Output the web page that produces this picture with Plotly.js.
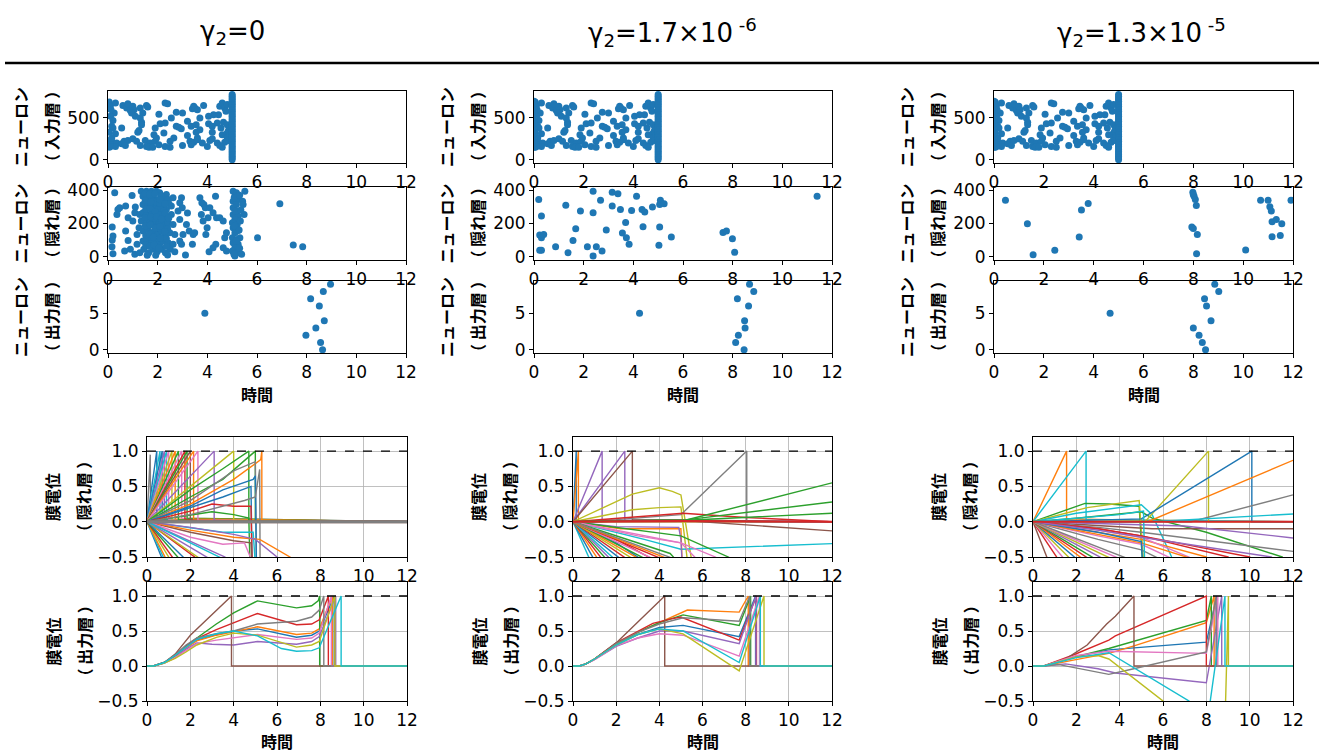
<!DOCTYPE html>
<html><head><meta charset="utf-8">
<script src="https://cdn.plot.ly/plotly-3.0.1.min.js"></script>
<style>html,body{margin:0;padding:0;background:#fff}#chart{width:1319px;height:753px}</style>
</head><body><div id="chart"></div>
<script>
// ================= DATA =================
const columnTitles = ['γ<sub>2</sub>=0', 'γ<sub>2</sub>=1.7×10<sup> -6</sup>', 'γ<sub>2</sub>=1.3×10<sup> -5</sup>'];
const quantityLabels = ['ニューロン','ニューロン','ニューロン','膜電位','膜電位'];
const layerLabels = ['（ 入力層 ）','（ 隠れ層 ）','（ 出力層 ）','（ 隠れ層 ）','（ 出力層 ）'];
const timeLabel = '時間';
const timeRange = [0, 12];
const xTicks = [0,2,4,6,8,10,12];
const yTicksInput = [0,500];
const yTicksHidden = [0,200,400];
const yTicksOutput = [0,5];
const yTicksMembrane = [-0.5,0,0.5,1];
const threshold = 1.0;
const outputNeurons = [0,1,2,3,4,5,6,7,8,9];

// input-layer spikes: [time, neuron]
const inputSpikes = [
 [0.05,690],[0.1,650],[0.3,680],[0.25,560],[0.6,650],[0.75,620],[0.8,670],[0.9,590],[1.0,640],[1.05,600],[1.3,620],[1.4,560],[1.55,650],[1.6,630],[2.05,545],[2.3,680],[2.4,670],[2.55,500],[2.75,570],[3.0,560],[3.4,610],[3.45,640],[3.5,620],[3.6,600],[3.85,650],[3.7,500],[4.05,520],[4.25,540],[4.45,540],[4.5,640],[4.6,680],[4.7,620],[4.8,660],[4.75,580],
 [0.1,520],[0.2,470],[0.15,400],[0.2,380],[0.55,380],[0.95,560],[1.1,520],[1.35,450],[1.35,420],[1.3,500],[1.9,380],[2.1,430],[2.3,440],[2.75,400],[2.85,390],[3.2,460],[3.35,400],[3.55,420],[3.7,360],[4.05,430],[4.2,400],[4.4,440],[4.55,380],[4.65,450],[4.8,420],
 [0.05,330],[0.3,310],[1.2,330],[1.25,350],[1.85,300],[1.95,260],[2.25,320],[2.95,370],[3.2,290],[3.55,330],[3.6,260],[4.2,330],[4.6,300],[4.8,320],[4.85,350],[4.9,380],[4.85,290],
 [0.05,230],[0.1,180],[0.2,200],[0.35,200],[0.55,190],[0.65,220],[0.8,230],[1.0,250],[1.15,220],[1.5,230],[1.7,200],[1.9,220],[2.05,180],[2.5,220],[2.65,260],[3.3,220],[3.45,210],[3.6,240],[3.8,200],[4.1,230],[4.2,250],[4.4,200],[4.7,210],[4.8,260],[4.9,280],[4.85,230],
 [0.05,150],[0.3,160],[0.7,170],[1.3,170],[1.55,160],[1.65,150],[1.8,150],[2.3,160],[2.5,150],[3.0,170],[3.35,180],[4.0,160],[4.5,170],[4.6,150],[0.1,160],[0.15,260],[0.12,600]
];
// extra spikes right at t=0 seen in the 2nd and 3rd columns
const inputStartSpikes = [[0,150],[0,190],[0,230],[0,270],[0,310],[0,350],[0,390],[0,430],[0,470],[0,510],[0,550],[0,590],[0,630],[0,670],[0,700]];
// burst at the end of the input window: every input neuron spikes
const inputBurstTime = 5.0;
const inputBurstNeurons = [0,20,40,60,80,100,120,140,160,180,200,220,240,260,280,300,320,340,360,380,400,420,440,460,480,500,520,540,560,580,600,620,640,660,680,700,720,740,760,780];

// hidden-layer spikes per column: [time, neuron]
const hidSpikes1 = [
 [0.27,384],[0.17,178],[0.2,124],[0.17,100],[0.16,60],[0.2,18],[0.4,284],[0.47,294],[0.36,254],[0.71,304],[0.81,234],[0.71,154],[0.81,98],[0.67,34],[0.9,44],[0.97,368],[1.1,298],[1.08,264],[1.0,214],[1.17,134],[1.17,74],[1.08,14],[1.25,174],[1.28,254],[1.28,24],
 [1.34,394],[1.55,394],[1.75,394],[1.95,394],[2.08,384],[2.35,374],[1.41,364],[1.61,354],[1.81,364],[2.02,344],[2.22,350],[2.42,344],[2.62,354],[2.96,354],[1.41,314],[1.61,304],[1.81,310],[1.95,294],[2.15,298],[2.35,284],[2.55,304],[1.41,264],[1.55,254],[1.75,264],[1.88,244],[2.02,264],[2.08,234],[2.22,254],[2.35,234],[2.55,254],[2.82,274],[1.34,214],[1.55,204],[1.68,218],[1.81,194],[1.95,214],[2.06,194],[2.18,210],[2.28,184],[2.42,204],[2.62,194],[2.89,224],[1.41,154],[1.61,164],[1.75,144],[1.88,158],[2.02,134],[2.15,154],[2.28,130],[2.49,144],[2.69,134],[1.41,94],[1.57,104],[1.75,84],[1.92,98],[2.08,74],[2.22,94],[2.42,84],[2.62,74],[2.89,94],[1.44,44],[1.64,24],[1.81,44],[1.98,30],[2.15,44],[2.31,24],[2.51,44],[2.69,30],[3.12,10],
 [1.9,330],[2.1,320],[2.0,280],[1.85,230],[2.25,275],[2.0,180],[1.7,120],[2.35,110],[1.95,60],[2.2,170],[1.65,330],[2.45,320],
 [1.5,380],[1.68,375],[1.88,378],[2.15,366],[1.5,338],[1.72,330],[2.1,342],[2.3,318],[1.52,285],[1.7,290],[1.9,270],[2.1,250],[2.3,262],[1.48,235],[1.72,240],[1.95,240],[2.15,228],[2.45,232],[1.5,185],[1.7,190],[1.9,172],[2.1,182],[2.4,168],[1.52,128],[1.68,135],[1.82,118],[2.1,112],[2.28,152],[1.52,70],[1.68,62],[1.85,72],[2.05,52],[2.35,62],[1.58,8],[1.92,8],[2.4,10],
 [2.89,324],[2.99,294],[3.16,194],[3.2,262],[3.02,134],[2.96,74],[3.27,154],[3.43,134],[3.49,144],[3.4,74],[3.7,354],[3.78,324],[3.86,314],[3.92,294],[3.76,254],[4.03,234],[3.83,214],[3.99,174],[3.94,134],[4.33,364],[4.1,294],[4.23,264],[4.37,234],[4.5,234],[4.64,214],[4.34,74],[4.23,54],[4.07,30],[4.7,114],[4.77,144],[4.64,54],[4.77,34],
 [5.04,394],[5.17,384],[5.11,364],[5.24,344],[5.04,334],[5.17,314],[5.04,294],[5.2,274],[5.04,254],[5.24,244],[5.11,224],[5.01,204],[5.2,194],[5.04,174],[5.24,158],[5.11,144],[5.01,114],[5.2,104],[5.04,84],[5.24,74],[5.11,54],[5.01,34],[5.2,24],[5.11,4],[5.38,14],[5.31,114],[5.33,214],[5.42,334],[5.51,394],[5.48,254],[5.44,314],
 [5.08,355],[5.15,275],[5.1,185],[5.16,95],[5.07,15],[5.3,50],[5.28,160],[5.35,280],[5.3,370],
 [6.02,114],[6.92,318],[7.46,70],[7.84,60]
];
const hidSpikes2 = [
 [0.19,344],[0.3,244],[0.23,130],[0.3,114],[0.39,134],[0.23,38],[0.3,38],[0.87,60],[1.28,310],[1.37,24],[1.57,98],[1.68,168],[1.87,274],[2.15,60],[2.38,394],[2.38,264],[2.38,4],[2.51,60],[2.68,340],[2.74,34],[2.91,160],[3.15,388],[3.38,378],[3.15,304],[3.48,284],[3.56,142],[3.69,206],[3.72,114],[3.83,74],[3.93,278],[4.13,364],[4.35,284],[4.46,268],[4.39,180],[4.77,298],[5.03,68],[5.06,178],[5.09,340],[5.06,314],[5.24,318],[5.53,118],[7.61,146],[7.75,154],[7.99,108],[8.08,26],[11.4,364]
];
const hidSpikes3 = [
 [0.46,340],[1.34,198],[1.57,12],[2.44,38],[3.42,118],[3.51,280],[3.78,320],[7.98,388],[8.03,364],[8.0,374],[8.08,344],[8.12,308],[7.94,178],[8.0,170],[8.16,134],[8.13,18],[10.1,40],[10.7,340],[11.0,340],[11.07,300],[11.13,274],[11.16,210],[11.33,224],[11.16,120],[11.49,128],[11.55,198],[11.92,340]
];

// output-layer spike time of neuron 0..9 per column
const outSpikes1 = [8.64,8.56,7.97,8.37,8.71,3.9,8.51,8.16,8.67,8.96];
const outSpikes2 = [8.46,8.12,8.23,8.5,8.48,4.25,8.64,8.19,8.85,8.68];
const outSpikes3 = [8.49,8.36,8.23,8.0,8.71,4.66,8.53,8.45,9.02,8.86];

// hidden-layer membrane potential traces (subset), each a list of [time, potential]
const hidMem1 = [
 [[0,0],[0.15,0.95],[0.17,0],[12,0]],
 [[0,0],[0.45,1],[0.45,0.02],[12,0]],
 [[0,0],[0.6,1],[0.6,0.02],[12,0]],
 [[0,0],[0.7,1],[0.7,0.03],[12,0]],
 [[0,0],[0.8,1],[0.8,0.02],[12,0]],
 [[0,0],[0.9,1],[0.9,0.02],[12,0]],
 [[0,0],[1.0,1],[1.0,0.03],[12,0]],
 [[0,0],[1.15,1],[1.15,0.02],[12,0]],
 [[0,0],[1.3,1],[1.3,0.04],[12,0]],
 [[0,0],[1.45,1],[1.45,0.03],[12,0]],
 [[0,0],[1.6,1],[1.6,0.05],[12,0]],
 [[0,0],[1.75,1],[1.75,0.04],[12,0]],
 [[0,0],[1.85,1],[1.85,0.05],[12,0]],
 [[0,0],[2.0,1],[2.0,0.03],[12,0]],
 [[0,0],[2.15,1],[2.15,0.04],[12,0]],
 [[0,0],[2.35,1],[2.35,0.02],[12,0]],
 [[0,0],[3.1,1],[3.1,0.02],[12,0]],
 [[0,0],[2,0.5],[4.0,1],[4.0,0.02],[12,0]],
 [[0,0],[2,0.45],[3.5,0.75],[4.7,1],[4.7,0],[12,0]],
 [[0,0],[2,0.35],[3.5,0.6],[5.0,1],[5.0,0],[12,0]],
 [[0,0],[2,0.25],[4,0.6],[5.25,0.88],[5.3,1],[5.3,0],[12,0]],
 [[0,0],[2,0.3],[4,0.72],[5.0,0.85],[5.05,-0.6]],
 [[0,0],[2,0.22],[3.5,0.45],[4.9,0.6],[5.0,0.65],[5.05,-0.6]],
 [[0,0],[2,0.2],[3.5,0.35],[4.8,0.5],[4.85,-0.6]],
 [[0,0],[2,0.15],[3,0.25],[4,0.22],[4.8,0.22],[4.85,-0.6]],
 [[0,0],[2,0.1],[3,0.14],[4,0.1],[4.7,0.05],[4.75,-0.6]],
 [[0,0],[2,0.1],[4.5,0.3],[5.0,0.35],[5.2,0.74],[5.22,-0.6]],
 [[0,0],[2,-0.08],[3.5,-0.15],[4.5,-0.15],[4.9,-0.15],[5.0,-0.6]],
 [[0,0],[2,-0.15],[4,-0.27],[4.8,-0.3],[4.85,-0.6]],
 [[0,0],[2,-0.12],[4,-0.22],[5.2,-0.25],[6.6,-0.5],[7,-0.6]],
 [[0,0],[2,-0.08],[4,-0.18],[5,-0.25],[6,-0.5],[6.2,-0.6]],
 [[0,0],[2,-0.22],[3.5,-0.32],[4.5,-0.3],[4.9,-0.6]],
 [[0,0],[2,-0.28],[3.6,-0.5],[3.8,-0.6]],
 [[0,0],[1.5,-0.35],[2.2,-0.5],[2.4,-0.6]],
 [[0,0],[0.8,-0.6]],
 [[0,0],[0.9,-0.6]],
 [[0,0],[1.0,-0.6]],
 [[0,0],[1.2,-0.6]],
 [[0,0],[1.4,-0.6]],
 [[0,0],[1.7,-0.6]],
 [[0,0],[2.0,-0.6]],
 [[0,0],[2.8,-0.6]],
 [[0,0],[3.3,-0.6]],
 [[0,0],[4.0,-0.6]],
 [[0,0],[12,0]],
 [[0,0],[5,0],[12,0]]
];
const hidMem2 = [
 [[0,0],[0.15,1],[0.15,0],[12,0]],
 [[0,0],[0.25,1],[0.25,0],[12,0]],
 [[0,0],[1.35,1],[1.35,0.02],[12,0]],
 [[0,0],[2.4,1],[2.4,0.02],[12,0]],
 [[0,0],[2.75,1],[2.75,0.03],[12,0]],
 [[0,0],[2.75,0.39],[4.0,0.48],[4.6,0.43],[5.0,0.38],[5.5,-0.55]],
 [[0,0],[2.75,0.17],[4.0,0.2],[5.0,0.21],[5.3,-0.55]],
 [[0,0],[2,0.03],[5.0,0.1],[8.05,1.0],[8.05,0],[12,0]],
 [[0,0],[2,0.05],[5.1,0.12],[8,0.06],[12,0.0]],
 [[0,0],[5.2,0.02],[12,0.55]],
 [[0,0],[5.3,0.03],[12,0.28]],
 [[0,0],[5.3,0.02],[12,0.12]],
 [[0,0],[5,0.02],[12,-0.13]],
 [[0,0],[3.3,-0.25],[5.0,-0.39],[12,-0.31]],
 [[0,0],[2.2,-0.1],[5.0,-0.1],[5.05,-0.55]],
 [[0,0],[2,-0.07],[4.9,-0.08],[5.0,-0.25],[5.05,-0.55]],
 [[0,0],[3,-0.2],[5.0,-0.3],[6.6,-0.5],[6.8,-0.55]],
 [[0,0],[3,-0.12],[5.0,-0.2],[7.2,-0.5],[7.4,-0.55]],
 [[0,0],[2.5,-0.15],[5,-0.3],[5.8,-0.55]],
 [[0,0],[2,-0.25],[3.5,-0.5],[3.7,-0.55]],
 [[0,0],[2,-0.3],[3,-0.5],[3.2,-0.55]],
 [[0,0],[3,-0.3],[4.5,-0.45],[4.8,-0.55]],
 [[0,0],[0.8,-0.55]],[[0,0],[1.0,-0.55]],[[0,0],[1.2,-0.55]],[[0,0],[1.4,-0.55]],
 [[0,0],[1.6,-0.55]],[[0,0],[1.8,-0.55]],[[0,0],[2.0,-0.55]],[[0,0],[2.3,-0.55]],
 [[0,0],[2.6,-0.55]],[[0,0],[2.9,-0.55]],[[0,0],[3.2,-0.55]],[[0,0],[3.5,-0.55]],
 [[0,0],[3.9,-0.55]],[[0,0],[4.3,-0.55]],[[0,0],[4.6,-0.55]],[[0,0],[4.9,-0.55]],
 [[0,0],[5,0.01],[12,0]]
];
const hidMem3 = [
 [[0,0],[1.55,1],[1.55,0.04],[5,0.02],[12,0]],
 [[0,0],[2.45,1],[2.45,0.03],[5,0.02],[12,0]],
 [[0,0],[2.4,0.26],[3.5,0.25],[4.9,0.22],[5.05,-0.55]],
 [[0,0],[2.5,0.2],[4.9,0.3],[5.1,-0.55]],
 [[0,0],[2,0.12],[5.0,0.24],[5.5,0.1],[6.4,-0.5],[6.5,-0.55]],
 [[0,0],[2,0.05],[5,0.14],[5.5,0.05],[8,-0.15],[11.5,-0.5],[11.7,-0.55]],
 [[0,0],[5.2,0.01],[8.1,1.0],[8.1,0],[12,0]],
 [[0,0],[5.0,0.04],[10.1,1.0],[10.1,0],[12,0]],
 [[0,0],[5.3,0.0],[12,0.87]],
 [[0,0],[7.3,0.0],[12,0.38]],
 [[0,0],[5.5,0.0],[12,0.11]],
 [[0,0],[3,-0.05],[5.5,-0.1],[12,-0.1]],
 [[0,0],[3,-0.03],[7,-0.06],[12,-0.23]],
 [[0,0],[3,-0.08],[5,-0.15],[12,-0.42]],
 [[0,0],[3,-0.1],[5,-0.2],[9,-0.5],[9.2,-0.55]],
 [[0,0],[3,-0.15],[5,-0.25],[8,-0.5],[8.2,-0.55]],
 [[0,0],[3,-0.12],[5,-0.22],[7.2,-0.5],[7.4,-0.55]],
 [[0,0],[3,-0.25],[5,-0.4],[6,-0.55]],
 [[0,0],[3,-0.2],[5,-0.32],[6.6,-0.55]],
 [[0,0],[3,-0.18],[5,-0.3],[7.6,-0.55]],
 [[0,0],[3,-0.15],[5.0,-0.28],[5.05,-0.55]],
 [[0,0],[4,0.1],[5.1,0.15],[5.15,-0.55]],
 [[0,0],[3,-0.1],[5,-0.2],[10,-0.5],[10.2,-0.55]],
 [[0,0],[3,-0.12],[5,-0.22],[11,-0.5],[11.2,-0.55]],
 [[0,0],[0.7,-0.55]],[[0,0],[1.2,-0.55]],[[0,0],[1.5,-0.55]],[[0,0],[1.8,-0.55]],
 [[0,0],[2.1,-0.55]],[[0,0],[2.4,-0.55]],[[0,0],[2.7,-0.55]],[[0,0],[3.0,-0.55]],
 [[0,0],[3.4,-0.55]],[[0,0],[3.8,-0.55]],[[0,0],[4.2,-0.55]],[[0,0],[4.6,-0.55]],
 [[0,0],[12,0]]
];

// output-layer membrane potential of neuron 0..9 per column
const outMem1 = [
 [[0,0],[0.3,0],[0.8,0.05],[1.3,0.15],[1.8,0.27],[2.3,0.37],[3.2,0.45],[4.0,0.5],[5.1,0.53],[6.9,0.41],[7.6,0.44],[7.95,0.5],[8.64,1],[8.64,0],[12,0]],
 [[0,0],[0.3,0],[0.8,0.05],[1.3,0.14],[1.8,0.26],[2.3,0.36],[3.2,0.44],[4.0,0.49],[5.1,0.56],[6.9,0.45],[7.6,0.47],[7.95,0.53],[8.56,1],[8.56,0],[12,0]],
 [[0,0],[0.3,0],[0.8,0.05],[1.3,0.15],[1.8,0.28],[2.3,0.4],[3.2,0.6],[4.0,0.76],[5.1,0.93],[6.9,0.83],[7.6,0.86],[7.9,0.93],[7.97,1],[7.97,0],[12,0]],
 [[0,0],[0.3,0],[0.8,0.05],[1.3,0.15],[1.8,0.28],[2.3,0.39],[3.2,0.52],[4.0,0.62],[5.1,0.75],[6.9,0.59],[7.6,0.6],[7.95,0.66],[8.37,1],[8.37,0],[12,0]],
 [[0,0],[0.3,0],[0.8,0.04],[1.3,0.12],[1.8,0.24],[2.3,0.33],[3.0,0.31],[3.5,0.3],[4.0,0.3],[5.1,0.35],[6.9,0.31],[7.6,0.35],[7.95,0.42],[8.71,1],[8.71,0],[12,0]],
 [[0,0],[0.3,0],[0.8,0.05],[1.3,0.17],[2.0,0.44],[3.9,1.0],[3.9,0],[12,0]],
 [[0,0],[0.3,0],[0.8,0.04],[1.3,0.12],[1.8,0.22],[2.3,0.32],[3.2,0.37],[4.0,0.4],[5.1,0.45],[6.9,0.38],[7.6,0.4],[7.95,0.47],[8.51,1],[8.51,0],[12,0]],
 [[0,0],[0.3,0],[0.8,0.05],[1.3,0.16],[1.8,0.3],[2.3,0.4],[3.2,0.46],[4.0,0.5],[5.1,0.6],[6.9,0.64],[7.6,0.7],[7.95,0.8],[8.16,1],[8.16,0],[12,0]],
 [[0,0],[0.3,0],[0.8,0.04],[1.3,0.11],[1.8,0.2],[2.3,0.3],[3.2,0.41],[4.0,0.47],[5.1,0.44],[6.9,0.27],[7.6,0.3],[7.95,0.35],[8.67,1],[8.67,0],[12,0]],
 [[0,0],[0.3,0],[0.8,0.05],[1.3,0.15],[1.8,0.27],[2.3,0.38],[3.2,0.46],[4.0,0.5],[5.1,0.43],[6.2,0.25],[6.9,0.21],[7.6,0.22],[7.95,0.26],[8.96,1],[8.96,0],[12,0]]
];
const outMem2 = [
 [[0,0],[0.3,0],[0.6,0.03],[1,0.1],[2,0.31],[3,0.45],[4,0.55],[5.1,0.58],[7.7,0.42],[8.46,1],[8.46,0],[12,0]],
 [[0,0],[0.3,0],[0.6,0.03],[1,0.1],[2,0.32],[3,0.48],[4,0.62],[5.3,0.8],[7.7,0.77],[8.12,1],[8.12,0],[12,0]],
 [[0,0],[0.3,0],[0.6,0.03],[1,0.1],[2,0.32],[3,0.48],[4,0.62],[5.1,0.73],[7.7,0.58],[8.23,1],[8.23,0],[12,0]],
 [[0,0],[0.3,0],[0.6,0.03],[1,0.1],[2,0.33],[3,0.5],[3.7,0.61],[4.5,0.67],[5.0,0.7],[7.7,0.37],[8.5,1],[8.5,0],[12,0]],
 [[0,0],[0.3,0],[0.6,0.03],[1,0.09],[2,0.28],[3,0.4],[4,0.5],[5.1,0.5],[7.7,0.32],[8.48,1],[8.48,0],[12,0]],
 [[0,0],[0.3,0],[0.6,0.03],[1,0.1],[2,0.33],[4.25,1.0],[4.25,0],[12,0]],
 [[0,0],[0.3,0],[0.6,0.03],[1,0.09],[2,0.29],[3,0.4],[4,0.46],[5.1,0.44],[7.7,0.14],[8.64,1],[8.64,0],[12,0]],
 [[0,0],[0.3,0],[0.6,0.03],[1,0.1],[2,0.32],[3,0.48],[4,0.6],[5.1,0.69],[7.7,0.64],[8.19,1],[8.19,0],[12,0]],
 [[0,0],[0.3,0],[0.6,0.03],[1,0.1],[2,0.3],[3,0.45],[4,0.53],[5.1,0.46],[7.7,-0.07],[8.85,1],[8.85,0],[12,0]],
 [[0,0],[0.3,0],[0.6,0.03],[1,0.1],[2,0.3],[3,0.45],[4,0.53],[5.1,0.5],[7.7,0.05],[8.68,1],[8.68,0],[12,0]]
];
const outMem3 = [
 [[0,0],[0.5,0],[1.8,0.12],[3.5,0.23],[8.0,0.34],[8.49,1],[8.49,0],[12,0]],
 [[0,0],[0.5,0],[1.8,0.08],[3.5,0.18],[4.7,0.29],[8.0,0.62],[8.36,1],[8.36,0],[12,0]],
 [[0,0],[0.5,0],[1.8,0.12],[3.5,0.25],[8.0,0.65],[8.23,1],[8.23,0],[12,0]],
 [[0,0],[0.5,0],[1.8,0.15],[3.5,0.37],[3.8,0.43],[8.0,1],[8.0,0],[12,0]],
 [[0,0],[0.5,0],[1.5,0.03],[3,-0.04],[3.8,-0.1],[8.0,-0.24],[8.71,1],[8.71,0],[12,0]],
 [[0,0],[0.5,0],[1.5,0.1],[2.5,0.3],[3.4,0.6],[3.8,0.71],[4.66,1],[4.66,0],[12,0]],
 [[0,0],[0.5,0],[2,0.15],[3.5,0.21],[8.0,0.18],[8.53,1],[8.53,0],[12,0]],
 [[0,0],[0.5,0],[1.2,0.02],[2.5,-0.06],[3.5,-0.12],[4.5,-0.05],[8.0,0.2],[8.45,1],[8.45,0],[12,0]],
 [[0,0],[0.5,0],[2,0.13],[3,0.15],[3.5,0.1],[6.0,-0.5],[8.0,-1.7],[8.88,-0.6],[9.02,1],[9.02,0],[12,0]],
 [[0,0],[0.5,0],[2,0.12],[3.5,0.19],[7.2,-0.5],[8.0,-0.9],[8.86,1],[8.86,0],[12,0]]
];

// ================= STYLE / LAYOUT =================
const W = 1319, H = 753;
const tab10 = ['#1f77b4','#ff7f0e','#2ca02c','#d62728','#9467bd','#8c564b','#e377c2','#7f7f7f','#bcbd22','#17becf'];
const hidMemColors = [
 [7,0,9,0,4,9,6,8,1,2,6,3,2,5,1,6,4,8,2,2,1,7,0,0,3,2,7,9,5,1,4,6,4,3,0,9,1,8,3,2,0,8,4,9,5,7],
 [0,1,4,4,5,8,8,7,3,2,2,2,5,9,1,4,6,2,6,3,0,2,9,0,1,3,2,4,9,0,3,8,1,2,6,3,1,7,3],
 [1,9,2,8,9,2,8,0,1,7,9,5,4,7,3,1,6,7,6,1,0,9,3,4,5,3,6,8,0,1,3,2,4,8,6,7,3]
];
const thickLines = [{44:3,45:3}, {38:2}, {36:2}];
const rasterX = [[108,406],[534,832],[994,1293]];
const memX = [[147,407],[573,832],[1033,1293]];
const panelY = [[91,163],[187,260],[281,353],[437,557],[582,701]];
const yRanges = [[-39,823],[-20,419],[-0.45,9.45],[-0.5,1.2],[-0.5,1.2]];
const yTicks = [yTicksInput, yTicksHidden, yTicksOutput, yTicksMembrane, yTicksMembrane];
const tickFont = {family:'DejaVu Sans', size:17, color:'#000'};
const cjkFont = {family:'Noto Sans CJK JP', size:16, color:'#000', weight:'bold'};

const hidSpikes = [hidSpikes1, hidSpikes2, hidSpikes3];
const outSpikes = [outSpikes1, outSpikes2, outSpikes3];
const hidMem = [hidMem1, hidMem2, hidMem3];
const outMem = [outMem1, outMem2, outMem3];

const traces = [];
const layout = {
  width: W, height: H, margin: {l:0, r:0, t:0, b:0},
  paper_bgcolor: '#fff', plot_bgcolor: 'rgba(0,0,0,0)',
  showlegend: false, font: tickFont, hovermode: false,
  annotations: [], shapes: []
};

function ax(c, p) { return c*5 + p + 1; }
const marker = {size: 7, color: tab10[0]};

for (let c = 0; c < 3; c++) {
  for (let p = 0; p < 5; p++) {
    const k = ax(c, p);
    const xs = (p < 3 ? rasterX : memX)[c];
    const ys = panelY[p];
    const isMem = p >= 3;
    layout['xaxis' + k] = {
      domain: [xs[0]/W, xs[1]/W], anchor: 'y' + k, range: timeRange,
      tickvals: xTicks, ticks: 'outside', ticklen: 4, tickwidth: 1, tickcolor: '#000',
      showline: true, mirror: true, linecolor: '#000', linewidth: 1,
      showgrid: isMem, gridcolor: '#b0b0b0', gridwidth: 0.8, zeroline: false,
      tickfont: tickFont, fixedrange: true
    };
    layout['yaxis' + k] = {
      domain: [1 - ys[1]/H, 1 - ys[0]/H], anchor: 'x' + k, range: yRanges[p],
      tickvals: yTicks[p], tickformat: isMem ? '.1f' : 'd', ticks: 'outside', ticklen: 4, tickwidth: 1, tickcolor: '#000',
      showline: true, mirror: true, linecolor: '#000', linewidth: 1,
      showgrid: isMem, gridcolor: '#b0b0b0', gridwidth: 0.8, zeroline: false,
      tickfont: tickFont, fixedrange: true
    };
    const off = p < 3 ? [88, 57] : [95, 64];
    const yc = (ys[0] + ys[1]) / 2;
    layout.annotations.push({xref:'paper', yref:'paper', x:(xs[0]-off[0])/W, y:1-yc/H, text:quantityLabels[p], textangle:-90, showarrow:false, xanchor:'center', yanchor:'middle', font:cjkFont});
    layout.annotations.push({xref:'paper', yref:'paper', x:(xs[0]-off[1])/W, y:1-yc/H, text:layerLabels[p], textangle:-90, showarrow:false, xanchor:'center', yanchor:'middle', font:cjkFont});
    if (p === 2 || p === 4) {
      const yl = p === 2 ? 394 : 741;
      layout.annotations.push({xref:'paper', yref:'paper', x:(xs[0]+xs[1])/2/W, y:1-yl/H, text:timeLabel, showarrow:false, xanchor:'center', yanchor:'middle', font:cjkFont});
    }
  }
  const xa = k => 'x' + k, ya = k => 'y' + k;
  let k = ax(c, 0);
  const inPts = c === 0 ? inputSpikes : inputSpikes.concat(inputStartSpikes);
  traces.push({type:'scatter', mode:'markers', xaxis:xa(k), yaxis:ya(k),
    x: inPts.map(s => s[0]).concat(inputBurstNeurons.map(() => inputBurstTime)),
    y: inPts.map(s => s[1]).concat(inputBurstNeurons),
    marker: marker, cliponaxis: true});
  k = ax(c, 1);
  traces.push({type:'scatter', mode:'markers', xaxis:xa(k), yaxis:ya(k),
    x: hidSpikes[c].map(s => s[0]), y: hidSpikes[c].map(s => s[1]), marker: marker, cliponaxis: true});
  k = ax(c, 2);
  traces.push({type:'scatter', mode:'markers', xaxis:xa(k), yaxis:ya(k),
    x: outSpikes[c], y: outputNeurons, marker: marker, cliponaxis: false});
  k = ax(c, 3);
  hidMem[c].forEach((ln, i) => {
    traces.push({type:'scatter', mode:'lines', xaxis:xa(k), yaxis:ya(k),
      x: ln.map(q => q[0]), y: ln.map(q => q[1]),
      line: {color: tab10[hidMemColors[c][i] ?? (i % 10)], width: thickLines[c][i] || 1.4}});
  });
  traces.push({type:'scatter', mode:'lines', xaxis:xa(k), yaxis:ya(k), x: timeRange, y: [threshold, threshold], line:{color:'#000', width:1.4, dash:'dash'}});
  k = ax(c, 4);
  outMem[c].forEach((ln, i) => {
    traces.push({type:'scatter', mode:'lines', xaxis:xa(k), yaxis:ya(k),
      x: ln.map(q => q[0]), y: ln.map(q => q[1]), line: {color: tab10[i], width: 1.4}});
  });
  traces.push({type:'scatter', mode:'lines', xaxis:xa(k), yaxis:ya(k), x: timeRange, y: [threshold, threshold], line:{color:'#000', width:1.4, dash:'dash'}});
}

const titleX = [232, 672, 1141];
columnTitles.forEach((t, i) => {
  layout.annotations.push({xref:'paper', yref:'paper', x:titleX[i]/W, y:1-33/H, text:t, showarrow:false, xanchor:'center', yanchor:'middle', font:{family:'DejaVu Sans', size:26, color:'#000'}});
});
layout.shapes.push({type:'line', xref:'paper', yref:'paper', x0:5/W, x1:1, y0:1-63/H, y1:1-63/H, line:{color:'#000', width:2.5}});

Plotly.newPlot('chart', traces, layout, {staticPlot:true, displayModeBar:false});
</script>
</body></html>
